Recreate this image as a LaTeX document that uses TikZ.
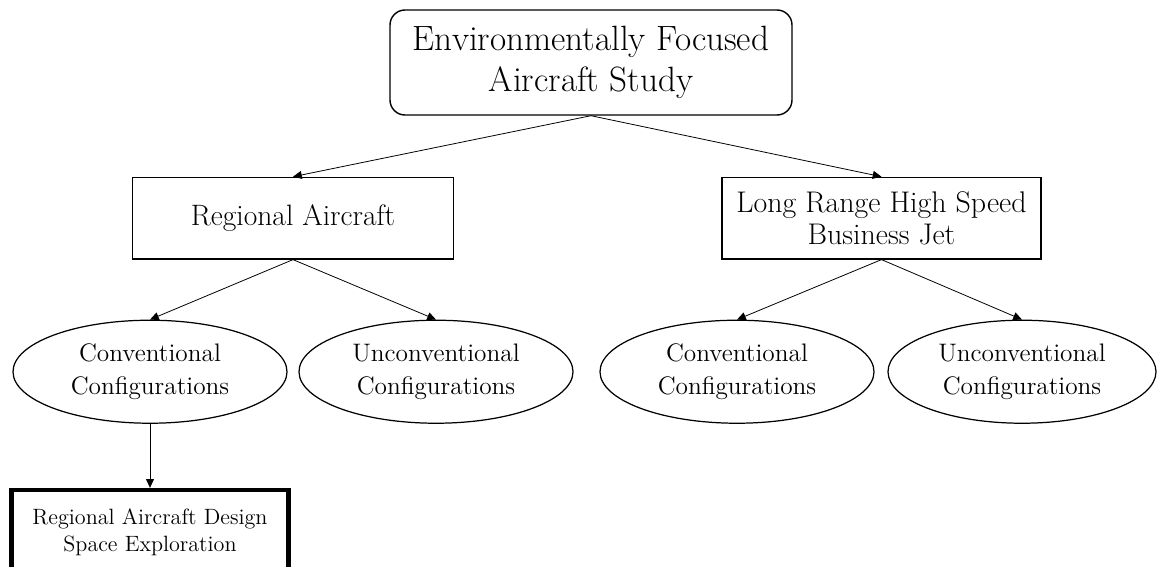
\documentclass[tikz,border=0pt]{standalone}
\usepackage{tikz}
\usetikzlibrary{shapes,arrows,arrows.meta,positioning,calc}

\begin{document}
\begin{tikzpicture}[node distance=1.2cm, auto,
  box/.style={rectangle,draw,line width=0.8pt,minimum width=6.42cm,minimum height=1.63cm,align=center,inner sep=0pt,font=\fontsize{16.8}{18.6}\selectfont},
  topbox/.style={box,rounded corners=0.3cm,minimum width=8.04cm,minimum height=2.1cm,font=\fontsize{20}{23.5}\selectfont},
  config/.style={ellipse,draw,line width=0.7pt,minimum width=5.48cm,minimum height=2.06cm,align=center,inner sep=0pt,font=\fontsize{14.4}{18.4}\selectfont},
  arrow/.style={-{Triangle[length=5pt,width=4.5pt]},line width=0.45pt}]
\useasboundingbox (0,0) rectangle (23.14,-11.34);
\node[topbox] (study) at (11.82,-1.25) {Environmentally Focused\\Aircraft Study};
\node[box,below=1.22cm of study,xshift=-5.96cm] (regional) {Regional Aircraft};
\node[box,below=1.22cm of study,xshift=5.81cm,minimum width=6.38cm,font=\fontsize{17}{18.6}\selectfont] (bizjet) {Long Range High Speed\\Business Jet};
\draw[arrow] (study.south)--(regional.north); \draw[arrow] (study.south)--(bizjet.north);
% configurations
\node[config,below=of regional,xshift=-2.86cm] (regconv) {Conventional\\Configurations};
\node[config,below=of regional,xshift=2.86cm] (regunconv) {Unconventional\\Configurations};
\node[config,below=of bizjet,xshift=-2.89cm] (jetconv) {Conventional\\Configurations};
\node[config,below=of bizjet,xshift=2.81cm,minimum width=5.36cm] (jetunconv) {Unconventional\\Configurations};
\draw[arrow] (regional.south)--(regconv.north); \draw[arrow] (regional.south)--(regunconv.north);
\draw[arrow] (bizjet.south)--(jetconv.north); \draw[arrow] (bizjet.south)--(jetunconv.north);
\node[box,below=1.28cm of regconv,line width=2.3pt,minimum width=5.54cm,minimum height=1.68cm,font=\fontsize{12.6}{15.4}\selectfont] (dse)
  {Regional Aircraft Design\\Space Exploration};
\draw[arrow] (regconv.south)--(dse.north);
\end{tikzpicture}
\end{document}
